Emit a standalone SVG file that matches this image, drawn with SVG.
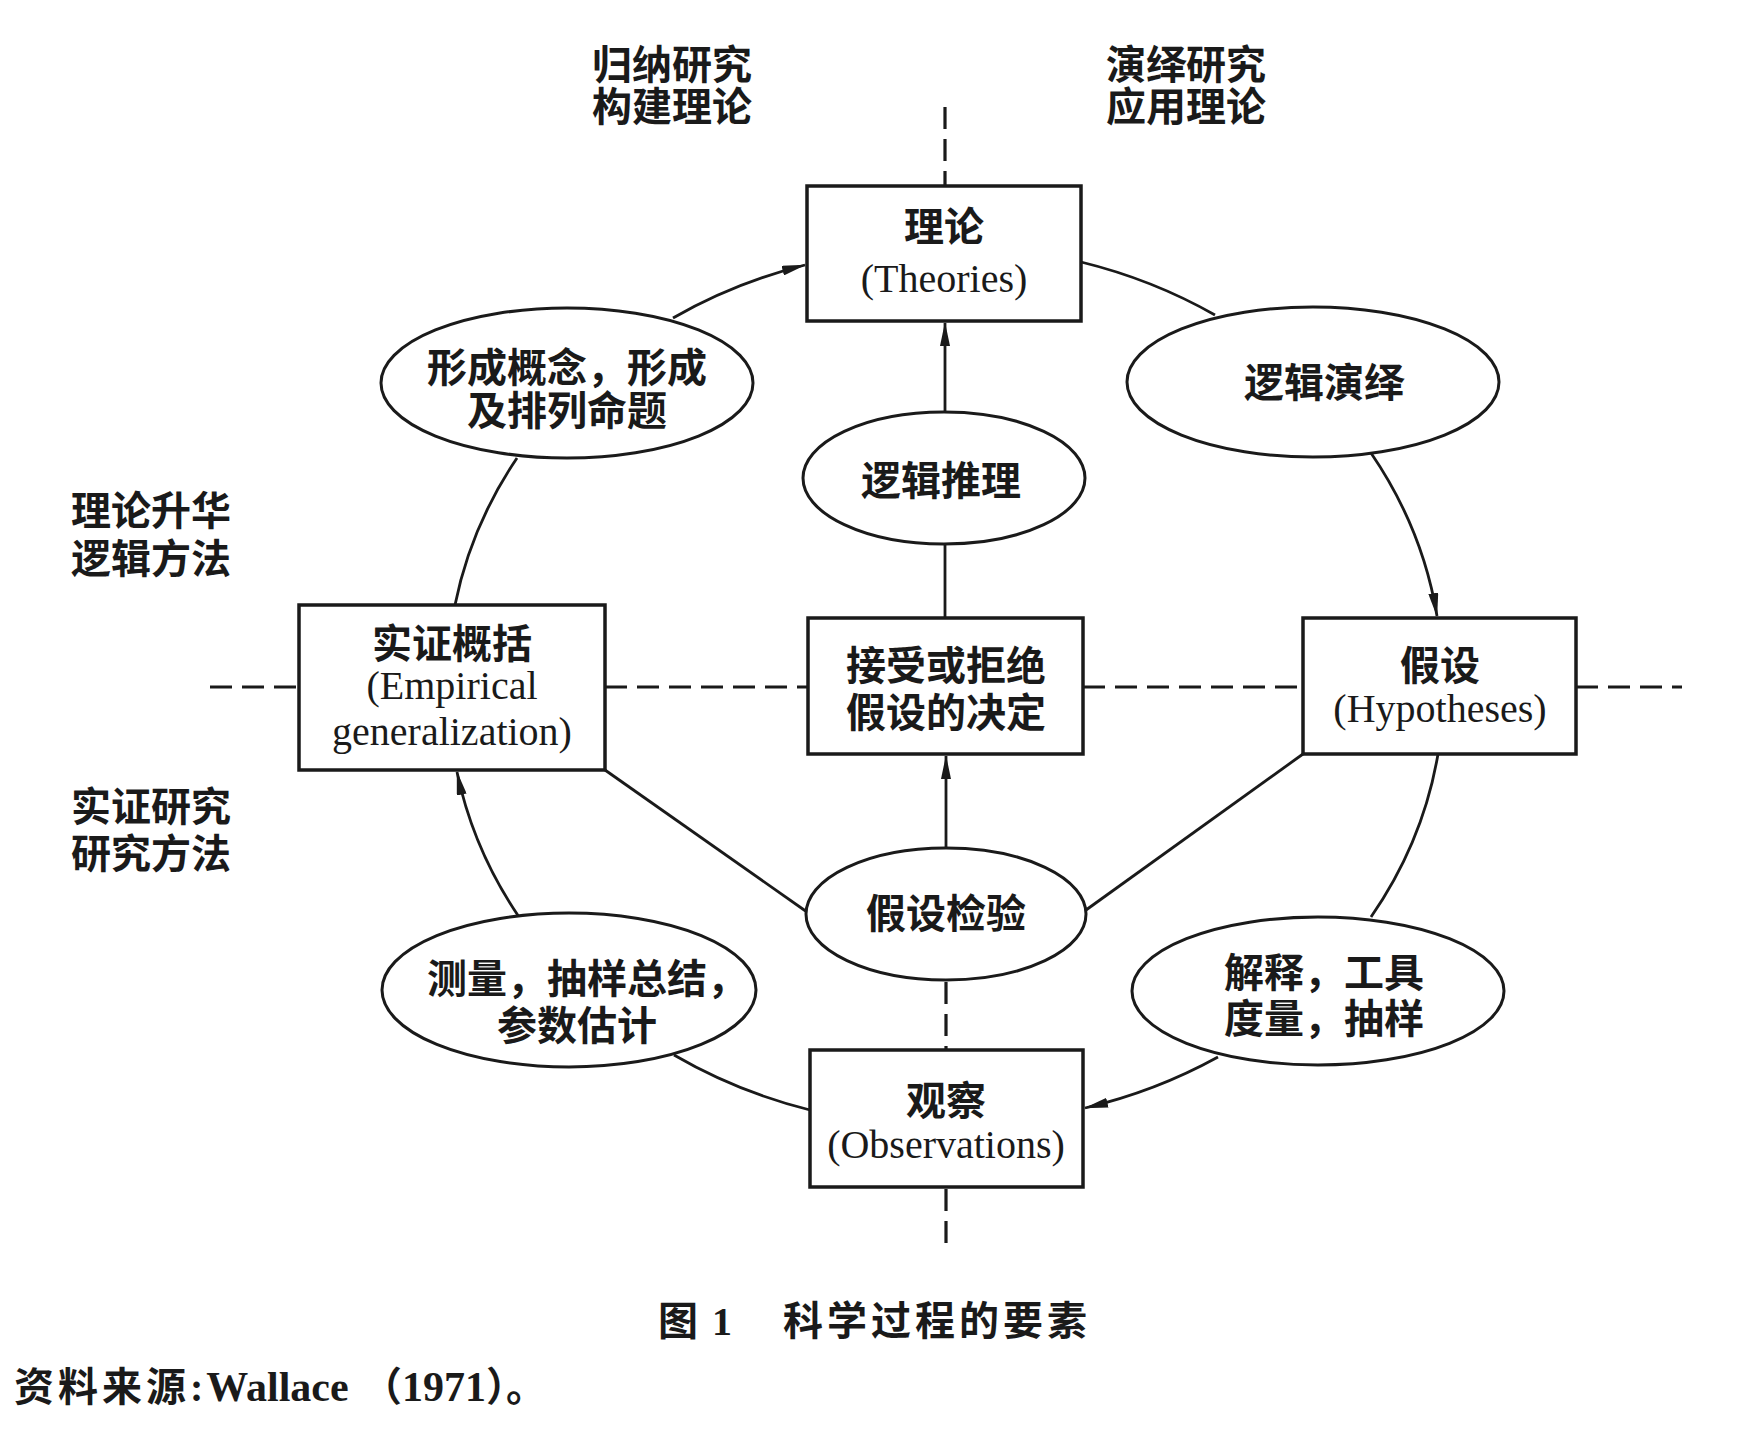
<svg xmlns="http://www.w3.org/2000/svg" width="1748" height="1442" viewBox="0 0 1748 1442">
<style>
.box{fill:#fff;stroke:#1a1a1a;stroke-width:3.5}
.ell{fill:#fff;stroke:#1a1a1a;stroke-width:3}
.ln{fill:none;stroke:#1a1a1a;stroke-width:2.8}
.dash{fill:none;stroke:#1a1a1a;stroke-width:3.2;stroke-dasharray:22 10}
.zh{font-family:"Liberation Serif","Noto Sans CJK SC",serif;font-size:40px;font-weight:bold;fill:#1a1a1a}
.en{font-family:"Liberation Serif","Noto Sans CJK SC",serif;font-size:40px;font-weight:normal;fill:#1a1a1a}
.c{text-anchor:middle}
</style>
<defs>
<marker id="ah" viewBox="0 0 24 10" refX="23" refY="5" markerWidth="24" markerHeight="10" orient="auto" markerUnits="userSpaceOnUse">
<path d="M0,0 L24,5 L0,10 z" fill="#1a1a1a"/>
</marker>
</defs>
<rect width="1748" height="1442" fill="#fff"/>

<g id="dashes">
<line class="dash" x1="945" y1="107" x2="945" y2="186"/>
<line class="dash" x1="946" y1="982" x2="946" y2="1050"/>
<line class="dash" x1="946" y1="1189" x2="946" y2="1250"/>
<line class="dash" x1="210" y1="687" x2="299" y2="687"/>
<line class="dash" x1="605" y1="687" x2="808" y2="687"/>
<line class="dash" x1="1083" y1="687" x2="1303" y2="687"/>
<line class="dash" x1="1576" y1="687" x2="1682" y2="687"/>
</g>

<g id="connectors">
<path class="ln" d="M673,318 A490,435 0 0,1 805,265" marker-end="url(#ah)"/>
<path class="ln" d="M1081,262 A490,435 0 0,1 1215,315"/>
<path class="ln" d="M1371,453 A490,435 0 0,1 1437,616" marker-end="url(#ah)"/>
<path class="ln" d="M1438,754 A490,435 0 0,1 1371,917"/>
<path class="ln" d="M1218,1057 A490,435 0 0,1 1085,1108" marker-end="url(#ah)"/>
<path class="ln" d="M810,1110 A490,435 0 0,1 674,1055"/>
<path class="ln" d="M519,917 A490,435 0 0,1 457,772" marker-end="url(#ah)"/>
<path class="ln" d="M455,605 A490,435 0 0,1 517,458"/>
<line class="ln" x1="945" y1="412" x2="945" y2="323" marker-end="url(#ah)"/>
<line class="ln" x1="945" y1="544" x2="945" y2="618"/>
<line class="ln" x1="946" y1="848" x2="946" y2="756" marker-end="url(#ah)"/>
<line class="ln" x1="605" y1="770" x2="807" y2="912"/>
<line class="ln" x1="1303" y1="754" x2="1086" y2="910"/>
</g>

<g id="theories">
<rect class="box" x="807" y="186" width="274" height="135"/>
<text class="zh c" x="944" y="241">理论</text>
<text class="en c" x="944" y="292">(Theories)</text>
</g>

<g id="form-concepts">
<ellipse class="ell" cx="567" cy="383" rx="186" ry="75"/>
<text class="zh c" x="567" y="382">形成概念，形成</text>
<text class="zh c" x="567" y="425">及排列命题</text>
</g>

<g id="logical-deduction">
<ellipse class="ell" cx="1313" cy="382" rx="186" ry="75"/>
<text class="zh c" x="1324" y="397">逻辑演绎</text>
</g>

<g id="logical-inference">
<ellipse class="ell" cx="944" cy="478" rx="141" ry="66"/>
<text class="zh c" x="941" y="495">逻辑推理</text>
</g>

<g id="empirical">
<rect class="box" x="299" y="605" width="306" height="165"/>
<text class="zh c" x="452" y="658">实证概括<tspan class="en" x="452" y="699">(Empirical</tspan><tspan class="en" x="452" y="745">generalization)</tspan></text>
</g>

<g id="decision">
<rect class="box" x="808" y="618" width="275" height="136"/>
<text class="zh c" x="946" y="680">接受或拒绝</text>
<text class="zh c" x="946" y="727">假设的决定</text>
</g>

<g id="hypotheses">
<rect class="box" x="1303" y="618" width="273" height="136"/>
<text class="zh c" x="1440" y="680">假设</text>
<text class="en c" x="1440" y="722">(Hypotheses)</text>
</g>

<g id="hypothesis-test">
<ellipse class="ell" cx="946" cy="914" rx="140" ry="66"/>
<text class="zh c" x="946" y="928">假设检验</text>
</g>

<g id="measurement">
<ellipse class="ell" cx="569" cy="990" rx="187" ry="77"/>
<text class="zh" x="427" y="993">测量，抽样总结，</text>
<text class="zh c" x="577" y="1040">参数估计</text>
</g>

<g id="interpretation">
<ellipse class="ell" cx="1318" cy="991" rx="186" ry="74"/>
<text class="zh" x="1224" y="987">解释，工具</text>
<text class="zh" x="1224" y="1033">度量，抽样</text>
</g>

<g id="observations">
<rect class="box" x="810" y="1050" width="273" height="137"/>
<text class="zh c" x="946" y="1115">观察</text>
<text class="en c" x="946" y="1158">(Observations)</text>
</g>

<g id="labels">
<text class="zh" x="592" y="79">归纳研究</text>
<text class="zh" x="592" y="121">构建理论</text>
<text class="zh" x="1106" y="79">演绎研究</text>
<text class="zh" x="1106" y="121">应用理论</text>
<text class="zh" x="71" y="525">理论升华</text>
<text class="zh" x="71" y="573">逻辑方法</text>
<text class="zh" x="71" y="821">实证研究</text>
<text class="zh" x="71" y="868">研究方法</text>
</g>

<g id="caption">
<text class="zh" x="658" y="1335">图<tspan x="712">1</tspan><tspan x="783" letter-spacing="4">科学过程的要素</tspan></text>
<text class="zh" x="14" y="1401"><tspan letter-spacing="4">资料来源</tspan>:<tspan dx="3" font-size="42">Wallace</tspan><tspan x="362">（</tspan><tspan font-size="42">1971</tspan>）。</text>
</g>
</svg>
